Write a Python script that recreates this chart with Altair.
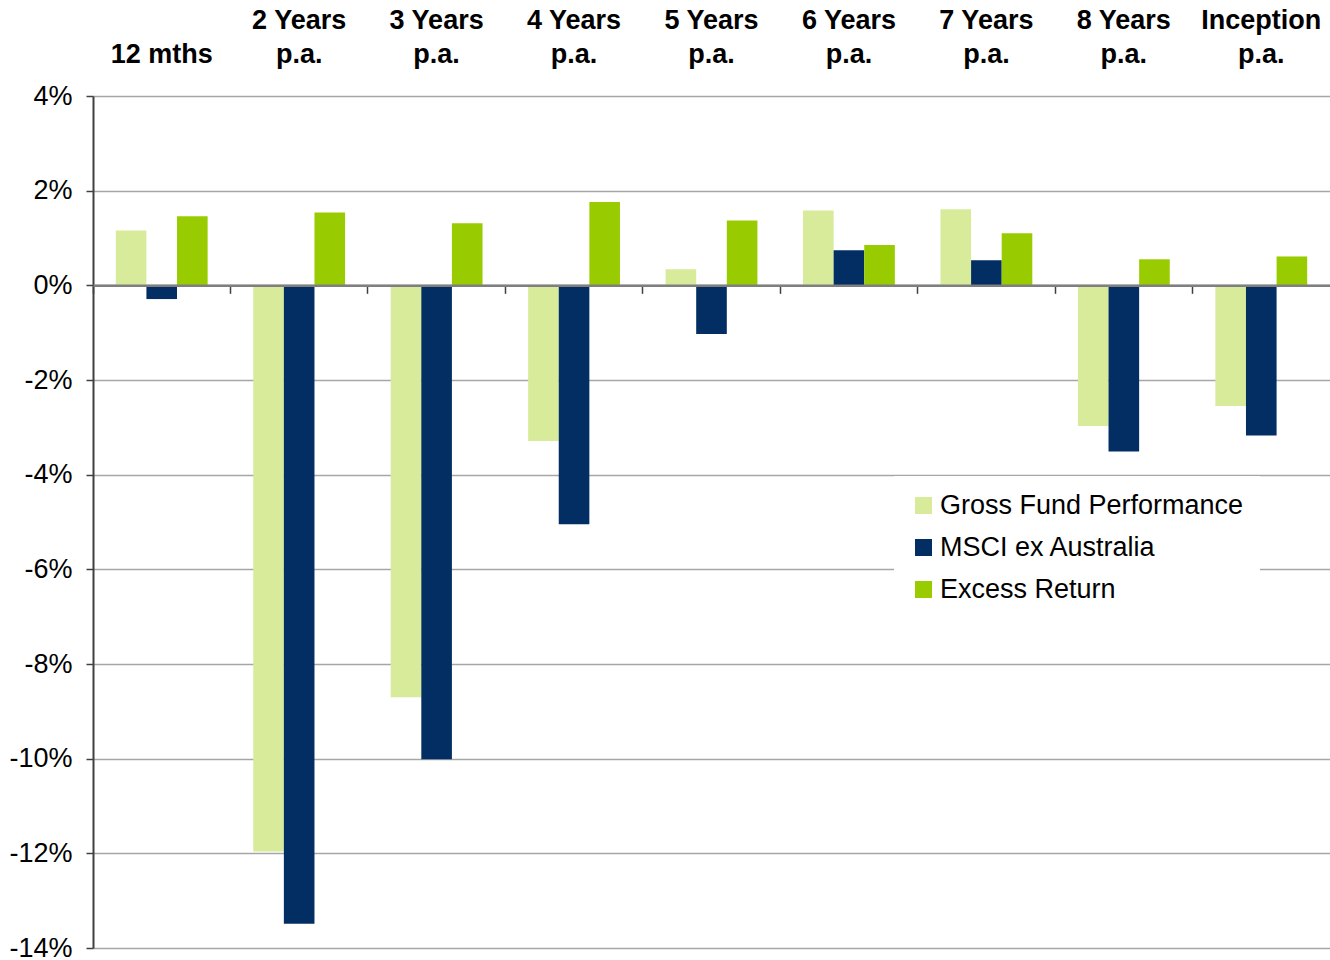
import altair as alt
import pandas as pd

# Return periods (a "|" marks a line break in the axis label)
categories = [
    "12 mths", "2 Years|p.a.", "3 Years|p.a.", "4 Years|p.a.", "5 Years|p.a.",
    "6 Years|p.a.", "7 Years|p.a.", "8 Years|p.a.", "Inception|p.a.",
]
series = ["Gross Fund Performance", "MSCI ex Australia", "Excess Return"]

# Returns in percent
gross = [1.16, -11.96, -8.70, -3.29, 0.34, 1.58, 1.61, -2.97, -2.55]
msci = [-0.29, -13.49, -10.01, -5.05, -1.03, 0.74, 0.53, -3.51, -3.17]
excess = [1.46, 1.54, 1.31, 1.76, 1.37, 0.85, 1.10, 0.55, 0.61]

colors = ["#D7EB9B", "#032E63", "#99CC00"]
y_ticks = [-14, -12, -10, -8, -6, -4, -2, 0, 2, 4]

FONT = "Liberation Sans"
Y_MIN, Y_MAX = -14, 4
W, H = 1237, 852

rows = []
for name, vals in zip(series, [gross, msci, excess]):
    for cat, v in zip(categories, vals):
        rows.append({"period": cat, "series": name, "value": v})
df = pd.DataFrame(rows)

# pixel offset that moves the bottom axis up onto the 0% line
zero_offset = -H * (0 - Y_MIN) / (Y_MAX - Y_MIN)

x_scale = alt.Scale(paddingInner=0, paddingOuter=0)

# single-line labels sit on the second line, level with "p.a."
label_expr = (
    "indexof(datum.value, '|') < 0 ? ['', datum.value] : split(datum.value, '|')"
)

bars = alt.Chart(df).mark_bar().encode(
    x=alt.X(
        "period:N", sort=categories, scale=x_scale,
        axis=alt.Axis(
            orient="top", title=None, ticks=False, domain=False, grid=False,
            labelAngle=0, labelExpr=label_expr,
            labelFont=FONT, labelFontSize=27, labelFontWeight="bold",
            labelColor="black", labelLineHeight=34, labelPadding=62,
            labelBaseline="bottom", labelLimit=300,
        ),
    ),
    xOffset=alt.XOffset(
        "series:N", sort=series,
        scale=alt.Scale(domain=series, paddingInner=0, paddingOuter=0.745),
    ),
    y=alt.Y(
        "value:Q",
        scale=alt.Scale(domain=[Y_MIN, Y_MAX], nice=False),
        axis=alt.Axis(
            title=None, values=y_ticks, labelExpr="datum.value + '%'",
            labelFont=FONT, labelFontSize=27, labelColor="black",
            labelPadding=14, tickSize=7, tickColor="#404040", tickWidth=1.5,
            domainColor="#404040", domainWidth=2,
            gridColor="#A6A6A6", gridWidth=1.3,
        ),
    ),
    y2=alt.datum(0),
    color=alt.Color(
        "series:N", sort=series,
        scale=alt.Scale(domain=series, range=colors),
        legend=alt.Legend(
            title=None, orient="none", legendX=801, legendY=380,
            symbolType="square", symbolSize=289, symbolStrokeWidth=0,
            labelFont=FONT, labelFontSize=27, labelColor="black",
            labelOffset=3, labelLimit=500, rowPadding=14, padding=16,
            fillColor="white",
        ),
    ),
)

# zero line with category dividers, drawn as a second x axis
zero_axis = alt.Chart(df).mark_point(opacity=0).encode(
    x=alt.X(
        "period:N", sort=categories, scale=x_scale,
        axis=alt.Axis(
            orient="bottom", offset=zero_offset, title=None, labels=False,
            grid=False, bandPosition=0, domainColor="#7F7F7F", domainWidth=2.5,
            tickColor="#404040", tickSize=8, tickWidth=1.5, zindex=1,
        ),
    ),
)

chart = (
    alt.layer(bars, zero_axis)
    .resolve_axis(x="independent")
    .properties(
        width=W, height=H,
        padding={"left": 93, "top": 96, "right": 0, "bottom": 12},
        autosize=alt.AutoSizeParams(type="none"),
        background="white",
    )
    .configure_view(stroke=None)
)

chart.save("out.html", embed_options={"renderer": "svg", "actions": False})
